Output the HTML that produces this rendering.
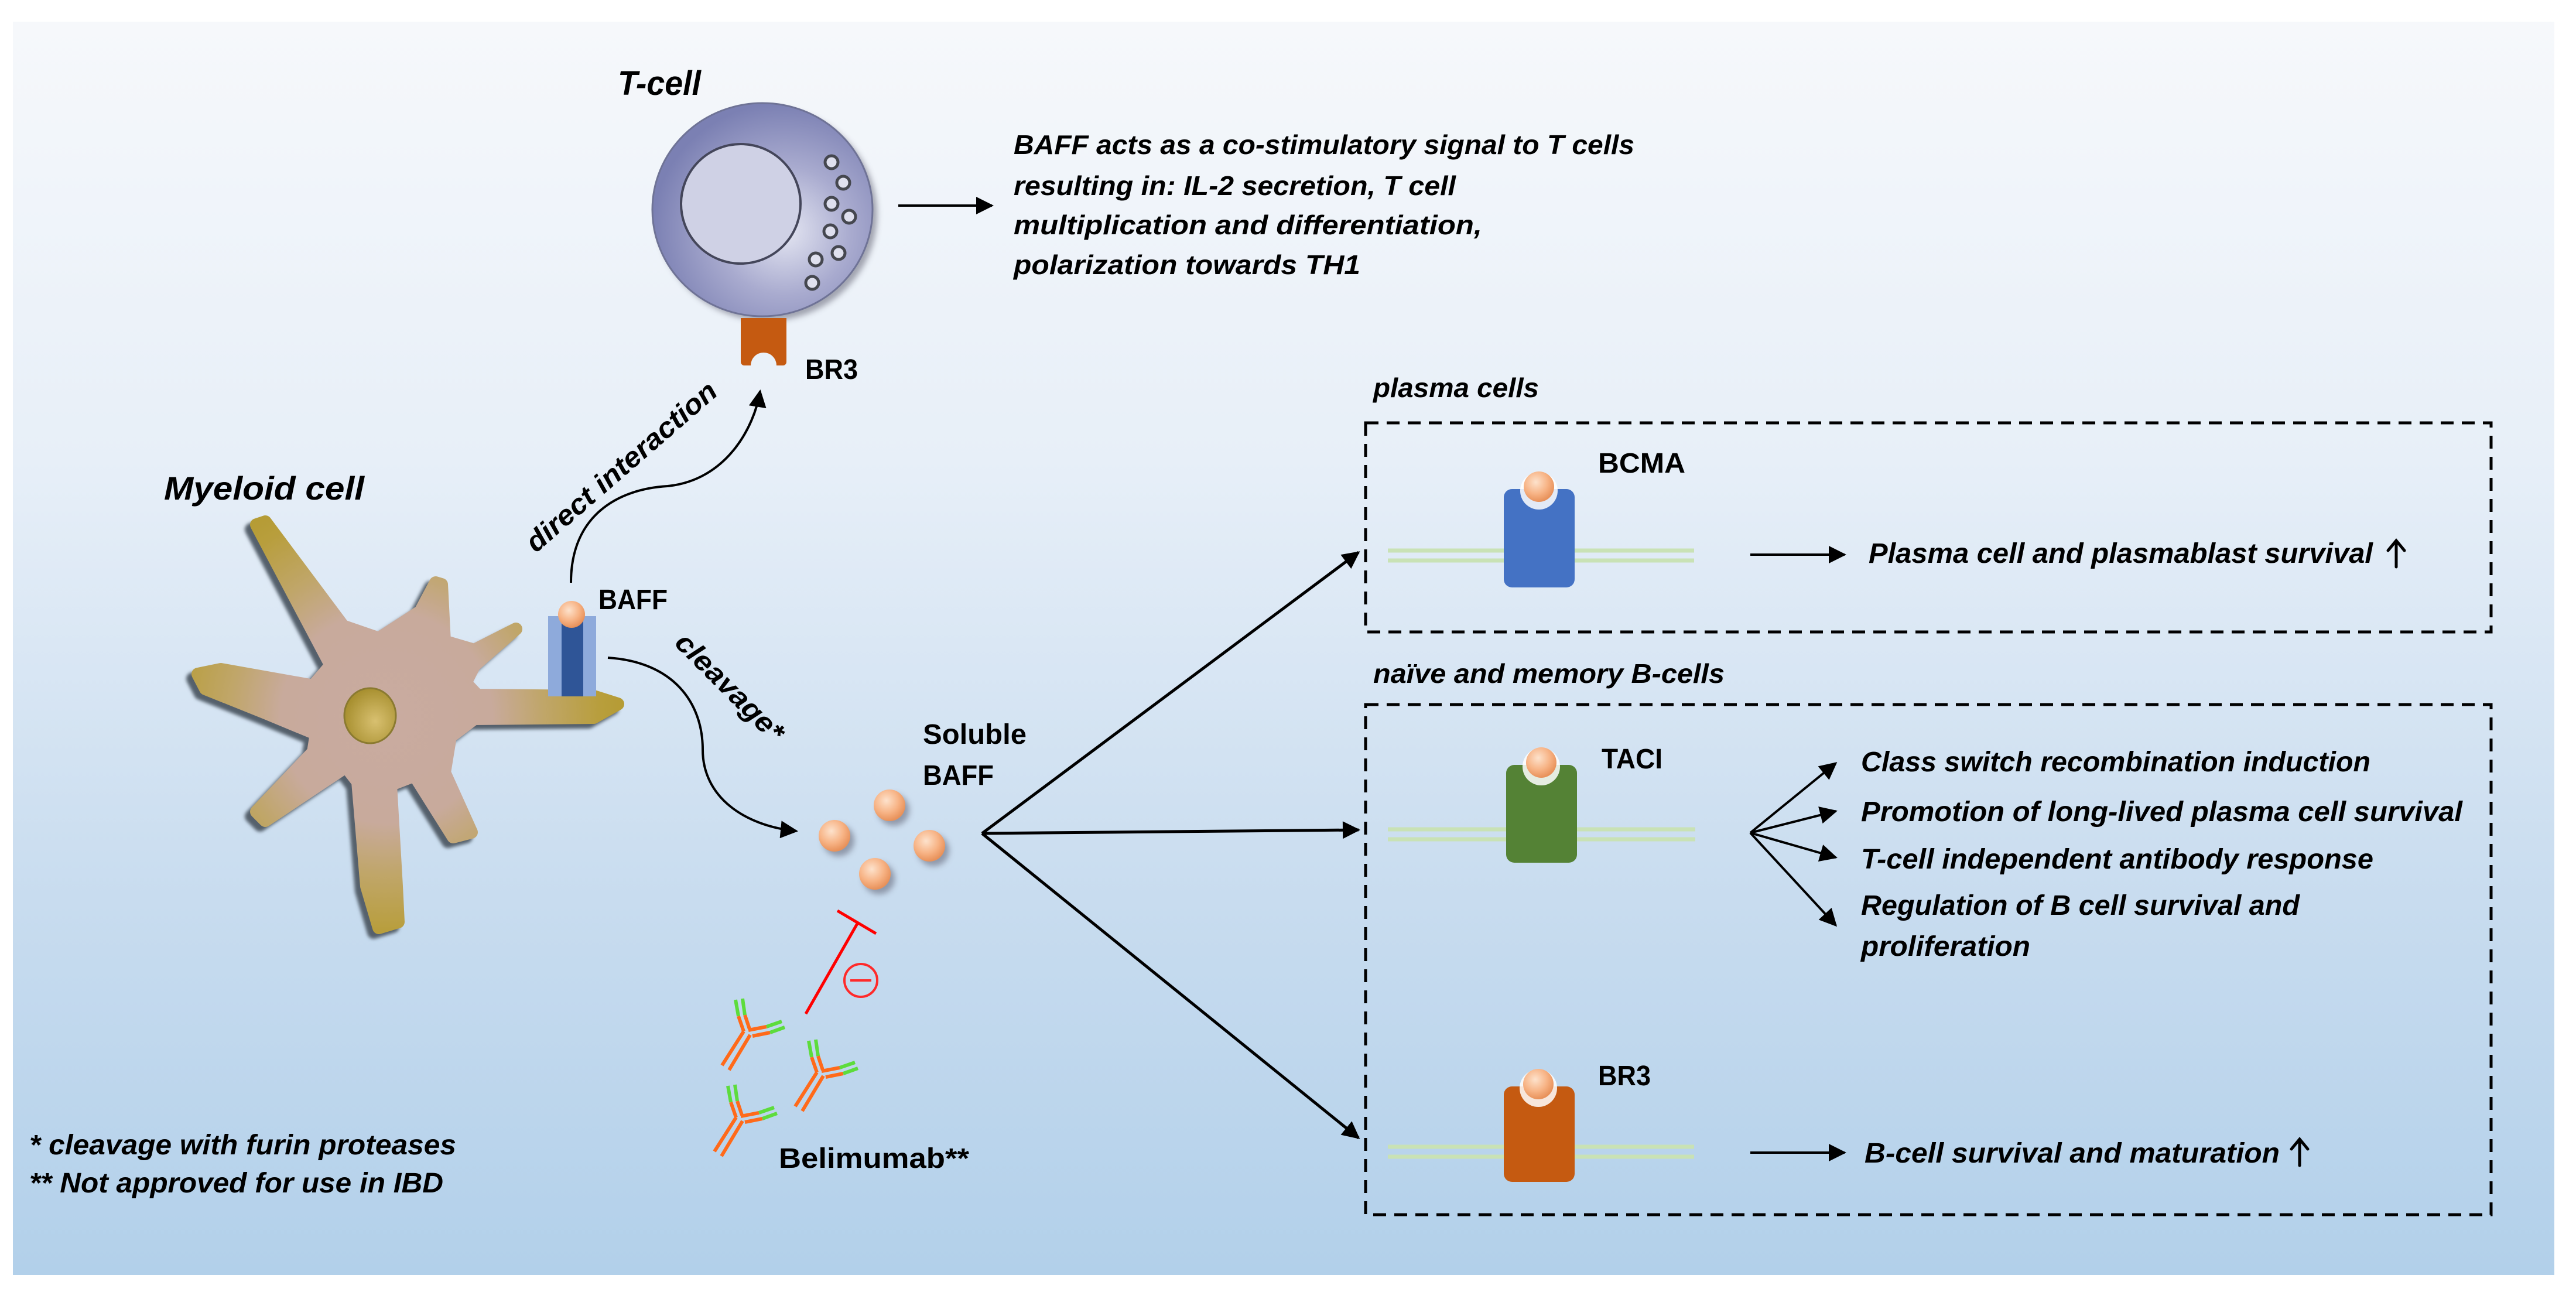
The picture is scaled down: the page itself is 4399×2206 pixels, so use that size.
<!DOCTYPE html>
<html><head><meta charset="utf-8"><style>html,body{margin:0;padding:0;background:#fff}svg{display:block}</style></head>
<body>
<svg width="4399" height="2206" viewBox="0 0 4399 2206" xmlns="http://www.w3.org/2000/svg" font-family="'Liberation Sans', sans-serif">
<defs>
<linearGradient id="bg" x1="0" y1="0" x2="0" y2="1">
<stop offset="0" stop-color="#f6f8fb"/><stop offset="0.35" stop-color="#e7eff8"/><stop offset="0.7" stop-color="#c8dcef"/><stop offset="1" stop-color="#b2d0ea"/></linearGradient>
<radialGradient id="tc" cx="0.6" cy="0.6" r="0.6"><stop offset="0" stop-color="#e4e6f2"/><stop offset="0.5" stop-color="#a9abcf"/><stop offset="1" stop-color="#7b80b3"/></radialGradient>
<radialGradient id="ball" cx="0.4" cy="0.35" r="0.65"><stop offset="0" stop-color="#fde2cc"/><stop offset="0.6" stop-color="#f7b385"/><stop offset="1" stop-color="#e8915a"/></radialGradient>
<radialGradient id="nuc" cx="0.6" cy="0.6" r="0.6"><stop offset="0" stop-color="#d8c070"/><stop offset="1" stop-color="#a89030"/></radialGradient>
<radialGradient id="cellg" gradientUnits="userSpaceOnUse" cx="660" cy="1225" r="430">
<stop offset="0" stop-color="#c9aba0"/><stop offset="0.42" stop-color="#c8aa9c"/><stop offset="0.62" stop-color="#c0a66a"/><stop offset="0.85" stop-color="#b89e3c"/><stop offset="1" stop-color="#b39a30"/></radialGradient>
<marker id="ahb" viewBox="0 0 10 10" refX="9" refY="5" markerWidth="34" markerHeight="30" orient="auto" markerUnits="userSpaceOnUse"><path d="M0,0 L10,5 L0,10 z" fill="#000"/></marker>
<filter id="sh" x="-30%" y="-30%" width="160%" height="160%"><feGaussianBlur stdDeviation="5"/></filter>
<filter id="sh2" x="-10%" y="-10%" width="120%" height="120%"><feGaussianBlur stdDeviation="3"/></filter>
<g id="ab" fill="none" stroke-width="6" stroke-linecap="butt">
<path d="M-3,-2 L-40,56 M8,4 L-28,64" stroke="#ff6a1a"/>
<path d="M-3,-2 L-12,-28 M7,-6 L-1,-30" stroke="#ff6a1a"/>
<path d="M-12,-28 L-17,-56 M-1,-30 L-5,-58" stroke="#5ddc3c"/>
<path d="M5,-4 L36,-10 M12,6 L42,0" stroke="#ff6a1a"/>
<path d="M36,-10 L62,-19 M42,0 L67,-9" stroke="#5ddc3c"/>
</g>
<path id="cell" d="M453,891 L586,1069 L647,1090 L718,1044 L744,995 L754,998 L759,1095 L810,1110 L881,1074 L810,1136 L795,1166 L815,1187 L1014,1189 L1055,1202 L1014,1225 L810,1227 L769,1258 L759,1319 L805,1421 L774,1429 L708,1324 L667,1340 L677,1513 L680,1574 L647,1584 L626,1513 L611,1335 L591,1309 L453,1401 L438,1386 L535,1284 L540,1253 L453,1217 L351,1176 L338,1151 L377,1143 L535,1171 L565,1136 L438,896 Z"/>
</defs>
<rect x="0" y="0" width="4399" height="2206" fill="#fff"/>
<rect x="22" y="37" width="4340" height="2140" fill="url(#bg)"/>

<!-- T-cell -->
<ellipse cx="1310" cy="366" rx="188" ry="182" fill="#556" opacity="0.5" filter="url(#sh)"/>
<ellipse cx="1302" cy="358" rx="188" ry="182" fill="url(#tc)" stroke="#6f7396" stroke-width="3"/>
<circle cx="1265" cy="348" r="102" fill="#cfd1e5" stroke="#44465a" stroke-width="4"/>
<g fill="#dfe0ee" stroke="#45474f" stroke-width="5">
<circle cx="1420" cy="277" r="11"/><circle cx="1440" cy="312" r="11"/><circle cx="1420" cy="348" r="11"/><circle cx="1450" cy="370" r="11"/><circle cx="1418" cy="395" r="11"/><circle cx="1432" cy="432" r="11"/><circle cx="1393" cy="443" r="11"/><circle cx="1387" cy="483" r="11"/>
</g>
<path d="M1265,543 H1343 V618 a6,6 0 0 1 -6,6 H1326 A22,22 0 0 0 1282,624 H1271 a6,6 0 0 1 -6,-6 Z" fill="#c55a11"/>
<text x="1055" y="162" font-size="58" font-weight="bold" font-style="italic" textLength="142" lengthAdjust="spacingAndGlyphs">T-cell</text>
<text x="1375" y="647" font-size="48" font-weight="bold" textLength="90" lengthAdjust="spacingAndGlyphs">BR3</text>
<line x1="1534" y1="351" x2="1694" y2="351" stroke="#000" stroke-width="4" marker-end="url(#ahb)"/>
<g font-size="46" font-weight="bold" font-style="italic">
<text x="1731" y="263" textLength="1060" lengthAdjust="spacingAndGlyphs">BAFF acts as a co-stimulatory signal to T cells</text>
<text x="1731" y="333" textLength="755" lengthAdjust="spacingAndGlyphs">resulting in: IL-2 secretion, T cell</text>
<text x="1731" y="400" textLength="800" lengthAdjust="spacingAndGlyphs">multiplication and differentiation,</text>
<text x="1731" y="468" textLength="592" lengthAdjust="spacingAndGlyphs">polarization towards TH1</text>
</g>

<!-- Myeloid cell -->
<text x="280" y="853" font-size="56" font-weight="bold" font-style="italic" textLength="342" lengthAdjust="spacingAndGlyphs">Myeloid cell</text>
<use href="#cell" transform="translate(-9,8)" fill="#55606c" stroke="#55606c" stroke-width="22" stroke-linejoin="round" filter="url(#sh2)"/>
<use href="#cell" fill="url(#cellg)" stroke="url(#cellg)" stroke-width="22" stroke-linejoin="round"/>
<ellipse cx="632" cy="1222" rx="44" ry="47" fill="url(#nuc)" stroke="#8a7a30" stroke-width="3"/>
<!-- BAFF receptor -->
<rect x="936" y="1052" width="82" height="137" fill="#8eaadb"/>
<rect x="959" y="1052" width="37" height="137" fill="#2f5597"/>
<circle cx="976" cy="1049" r="23" fill="url(#ball)"/>
<text x="1022" y="1040" font-size="48" font-weight="bold" textLength="118" lengthAdjust="spacingAndGlyphs">BAFF</text>

<!-- direct interaction -->
<path d="M975,995 C975,880 1055,835 1140,830 C1240,820 1288,730 1298,668" fill="none" stroke="#000" stroke-width="4" marker-end="url(#ahb)"/>
<text transform="translate(915,945) rotate(-41)" font-size="48" font-weight="bold" font-style="italic" textLength="415" lengthAdjust="spacingAndGlyphs">direct interaction</text>
<!-- cleavage -->
<path d="M1038,1123 C1150,1130 1200,1200 1200,1280 C1200,1360 1270,1410 1360,1419" fill="none" stroke="#000" stroke-width="4" marker-end="url(#ahb)"/>
<text transform="translate(1150,1100) rotate(45)" font-size="48" font-weight="bold" font-style="italic" textLength="240" lengthAdjust="spacingAndGlyphs">cleavage*</text>

<!-- soluble BAFF -->
<g>
<circle cx="1526" cy="1383" r="27" fill="#556" opacity="0.5" filter="url(#sh)"/><circle cx="1432" cy="1435" r="27" fill="#556" opacity="0.5" filter="url(#sh)"/><circle cx="1594" cy="1452" r="27" fill="#556" opacity="0.5" filter="url(#sh)"/><circle cx="1501" cy="1500" r="27" fill="#556" opacity="0.5" filter="url(#sh)"/>
<circle cx="1519" cy="1375" r="27" fill="url(#ball)"/><circle cx="1425" cy="1427" r="27" fill="url(#ball)"/><circle cx="1587" cy="1444" r="27" fill="url(#ball)"/><circle cx="1494" cy="1492" r="27" fill="url(#ball)"/>
</g>
<text x="1576" y="1270" font-size="48" font-weight="bold" textLength="177" lengthAdjust="spacingAndGlyphs">Soluble</text>
<text x="1576" y="1340" font-size="48" font-weight="bold" textLength="121" lengthAdjust="spacingAndGlyphs">BAFF</text>

<!-- inhibitor -->
<line x1="1376" y1="1731" x2="1464" y2="1577" stroke="#ff0000" stroke-width="5"/>
<line x1="1430" y1="1555" x2="1496" y2="1594" stroke="#ff0000" stroke-width="5"/>
<circle cx="1470" cy="1674" r="28" fill="none" stroke="#ff2a2a" stroke-width="4"/>
<line x1="1452" y1="1674" x2="1488" y2="1674" stroke="#ff2a2a" stroke-width="4"/>
<use href="#ab" x="1273" y="1763"/><use href="#ab" x="1398" y="1833"/><use href="#ab" x="1260" y="1910"/>
<text x="1330" y="1994" font-size="48" font-weight="bold" textLength="325" lengthAdjust="spacingAndGlyphs">Belimumab**</text>

<!-- footnotes -->
<text x="50" y="1971" font-size="48" font-weight="bold" font-style="italic" textLength="729" lengthAdjust="spacingAndGlyphs">* cleavage with furin proteases</text>
<text x="50" y="2036" font-size="48" font-weight="bold" font-style="italic" textLength="707" lengthAdjust="spacingAndGlyphs">** Not approved for use in IBD</text>

<!-- fan -->
<g stroke="#000" stroke-width="5" fill="none">
<line x1="1677" y1="1423" x2="2320" y2="943" marker-end="url(#ahb)"/>
<line x1="1677" y1="1423" x2="2320" y2="1417" marker-end="url(#ahb)"/>
<line x1="1677" y1="1423" x2="2320" y2="1943" marker-end="url(#ahb)"/>
</g>

<!-- boxes -->
<rect x="2332" y="722" width="1922" height="357" fill="none" stroke="#000" stroke-width="5" stroke-dasharray="22,14"/>
<rect x="2332" y="1203" width="1922" height="871" fill="none" stroke="#000" stroke-width="5" stroke-dasharray="22,14"/>
<text x="2345" y="678" font-size="46" font-weight="bold" font-style="italic" textLength="283" lengthAdjust="spacingAndGlyphs">plasma cells</text>
<text x="2345" y="1166" font-size="46" font-weight="bold" font-style="italic" textLength="600" lengthAdjust="spacingAndGlyphs">naïve and memory B-cells</text>

<!-- membranes -->
<g stroke="#c9e2b5" stroke-width="7">
<line x1="2370" y1="940" x2="2893" y2="940"/><line x1="2370" y1="957" x2="2893" y2="957"/>
<line x1="2370" y1="1416" x2="2895" y2="1416"/><line x1="2370" y1="1433" x2="2895" y2="1433"/>
<line x1="2370" y1="1958" x2="2893" y2="1958"/><line x1="2370" y1="1975" x2="2893" y2="1975"/>
</g>
<!-- receptors -->
<rect x="2568" y="835" width="121" height="168" rx="14" fill="#4472c4"/>
<circle cx="2628" cy="838" r="32" fill="#fff" opacity="0.85"/><circle cx="2628" cy="831" r="26" fill="url(#ball)"/>
<rect x="2572" y="1306" width="121" height="167" rx="14" fill="#548235"/>
<circle cx="2632" cy="1309" r="32" fill="#fff" opacity="0.85"/><circle cx="2632" cy="1302" r="26" fill="url(#ball)"/>
<rect x="2568" y="1855" width="121" height="163" rx="14" fill="#c55a11"/>
<circle cx="2627" cy="1858" r="32" fill="#fff" opacity="0.85"/><circle cx="2627" cy="1851" r="26" fill="url(#ball)"/>
<g font-size="48" font-weight="bold">
<text x="2729" y="807" textLength="149" lengthAdjust="spacingAndGlyphs">BCMA</text>
<text x="2735" y="1312" textLength="104" lengthAdjust="spacingAndGlyphs">TACI</text>
<text x="2729" y="1853" textLength="90" lengthAdjust="spacingAndGlyphs">BR3</text>
</g>
<!-- outcome arrows -->
<g stroke="#000" stroke-width="4" fill="none">
<line x1="2989" y1="947" x2="3150" y2="947" marker-end="url(#ahb)"/>
<line x1="2989" y1="1968" x2="3150" y2="1968" marker-end="url(#ahb)"/>
<line x1="2989" y1="1422" x2="3135" y2="1303" marker-end="url(#ahb)"/>
<line x1="2989" y1="1422" x2="3135" y2="1385" marker-end="url(#ahb)"/>
<line x1="2989" y1="1422" x2="3135" y2="1464" marker-end="url(#ahb)"/>
<line x1="2989" y1="1422" x2="3135" y2="1580" marker-end="url(#ahb)"/>
</g>
<g font-size="48" font-weight="bold" font-style="italic">
<text x="3191" y="961" textLength="861" lengthAdjust="spacingAndGlyphs">Plasma cell and plasmablast survival</text>
<text x="3178" y="1317" textLength="870" lengthAdjust="spacingAndGlyphs">Class switch recombination induction</text>
<text x="3178" y="1402" textLength="1027" lengthAdjust="spacingAndGlyphs">Promotion of long-lived plasma cell survival</text>
<text x="3178" y="1483" textLength="875" lengthAdjust="spacingAndGlyphs">T-cell independent antibody response</text>
<text x="3178" y="1562" textLength="749" lengthAdjust="spacingAndGlyphs">Regulation of B cell survival and</text>
<text x="3178" y="1632" textLength="289" lengthAdjust="spacingAndGlyphs">proliferation</text>
<text x="3184" y="1985" textLength="709" lengthAdjust="spacingAndGlyphs">B-cell survival and maturation</text>
</g>
<g stroke="#000" stroke-width="5" fill="none" stroke-linecap="round">
<path d="M4092,968 V924 M4078,940 L4092,923 L4106,940"/>
<path d="M3927,1990 V1946 M3913,1962 L3927,1945 L3941,1962"/>
</g>
</svg>
</body></html>
